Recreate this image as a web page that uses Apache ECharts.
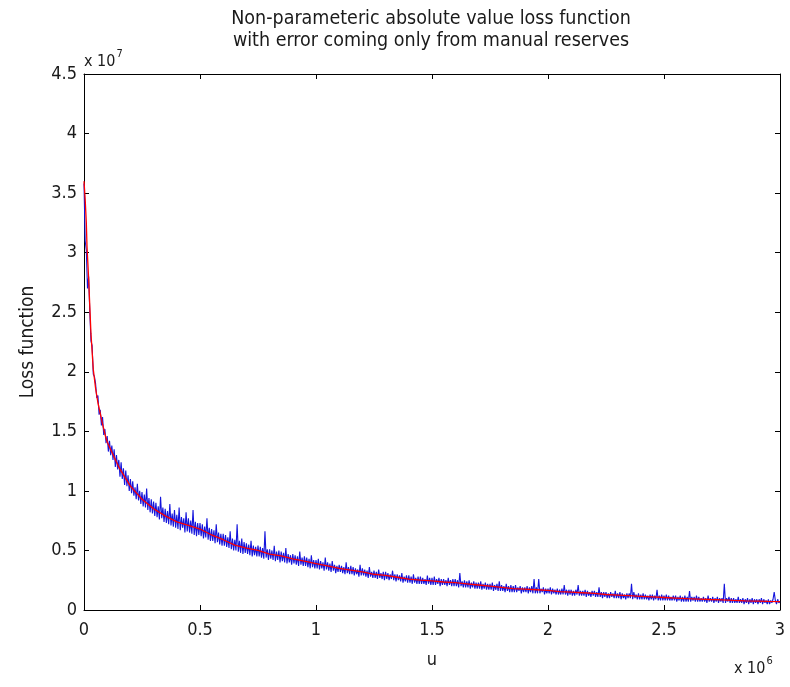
<!DOCTYPE html>
<html>
<head>
<meta charset="utf-8">
<script src="https://cdn.jsdelivr.net/npm/echarts@6/dist/echarts.min.js"></script>
<style>
html, body { margin: 0; padding: 0; background: #ffffff; }
#chart { width: 790px; height: 687px; }
</style>
</head>
<body>
<div id="chart"></div>
<script>
// Plot text
const titleLines = [
  'Non-parameteric absolute value loss function',
  'with error coming only from manual reserves'
];
const xName = 'u';
const yName = 'Loss function';

// Axis ticks (u in units of 1e6, loss in units of 1e7)
const xTicks = [0, 0.5, 1, 1.5, 2, 2.5, 3];
const yTicks = [0, 0.5, 1, 1.5, 2, 2.5, 3, 3.5, 4, 4.5];

// Noisy loss samples, one every 0.005 (x 1e6) from u = 0 to u = 3
const lossStep = 0.005;
const lossNoisy = [
  3.58, 3.10, 3.02, 2.70, 2.80, 2.50, 2.26, 2.22, 1.98, 1.96,
  1.90, 1.78, 1.80, 1.64, 1.68, 1.55, 1.62, 1.47, 1.52, 1.40,
  1.46, 1.33, 1.42, 1.30, 1.38, 1.26, 1.35, 1.20, 1.30, 1.18,
  1.26, 1.12, 1.24, 1.10, 1.19, 1.05, 1.17, 1.04, 1.13, 1.00,
  1.10, 0.98, 1.08, 0.96, 1.03, 0.93, 1.06, 0.92, 1.00, 0.89,
  0.99, 0.87, 0.97, 0.86, 1.02, 0.84, 0.94, 0.82, 0.93, 0.81,
  0.91, 0.79, 0.90, 0.78, 0.87, 0.76, 0.95, 0.77, 0.86, 0.74,
  0.85, 0.73, 0.83, 0.72, 0.89, 0.71, 0.81, 0.70, 0.84, 0.69,
  0.80, 0.68, 0.86, 0.67, 0.78, 0.69, 0.77, 0.65, 0.82, 0.66,
  0.77, 0.65, 0.75, 0.64, 0.84, 0.63, 0.74, 0.62, 0.73, 0.63,
  0.73, 0.62, 0.72, 0.60, 0.70, 0.61, 0.77, 0.59, 0.69, 0.58,
  0.68, 0.58, 0.67, 0.56, 0.72, 0.57, 0.65, 0.55, 0.64, 0.54,
  0.64, 0.54, 0.63, 0.53, 0.61, 0.52, 0.66, 0.51, 0.60, 0.50,
  0.59, 0.50, 0.72, 0.49, 0.58, 0.48, 0.60, 0.47, 0.57, 0.48,
  0.56, 0.47, 0.55, 0.46, 0.58, 0.45, 0.54, 0.46, 0.53, 0.45,
  0.54, 0.45, 0.53, 0.44, 0.52, 0.43, 0.66, 0.44, 0.51, 0.42,
  0.51, 0.43, 0.50, 0.42, 0.54, 0.41, 0.49, 0.42, 0.50, 0.40,
  0.49, 0.41, 0.48, 0.40, 0.52, 0.39, 0.47, 0.40, 0.46, 0.38,
  0.47, 0.39, 0.46, 0.38, 0.45, 0.37, 0.49, 0.38, 0.44, 0.37,
  0.45, 0.37, 0.44, 0.36, 0.43, 0.35, 0.46, 0.36, 0.42, 0.35,
  0.42, 0.35, 0.43, 0.34, 0.41, 0.35, 0.40, 0.33, 0.44, 0.34,
  0.40, 0.33, 0.39, 0.32, 0.41, 0.33, 0.38, 0.31, 0.37, 0.32,
  0.38, 0.32, 0.37, 0.31, 0.36, 0.30, 0.40, 0.31, 0.36, 0.30,
  0.37, 0.30, 0.36, 0.29, 0.35, 0.30, 0.34, 0.28, 0.38, 0.29,
  0.35, 0.29, 0.34, 0.28, 0.33, 0.27, 0.36, 0.28, 0.32, 0.27,
  0.33, 0.27, 0.32, 0.26, 0.34, 0.27, 0.31, 0.26, 0.32, 0.25,
  0.32, 0.26, 0.31, 0.25, 0.30, 0.26, 0.33, 0.25, 0.30, 0.24,
  0.30, 0.25, 0.29, 0.24, 0.31, 0.23, 0.28, 0.24, 0.29, 0.23,
  0.29, 0.23, 0.28, 0.22, 0.30, 0.23, 0.27, 0.22, 0.28, 0.22,
  0.28, 0.22, 0.27, 0.22, 0.26, 0.21, 0.29, 0.22, 0.27, 0.21,
  0.27, 0.21, 0.28, 0.21, 0.26, 0.22, 0.27, 0.20, 0.26, 0.21,
  0.26, 0.21, 0.25, 0.20, 0.27, 0.21, 0.25, 0.20, 0.26, 0.20,
  0.26, 0.20, 0.25, 0.19, 0.31, 0.20, 0.24, 0.19, 0.25, 0.19,
  0.24, 0.19, 0.25, 0.18, 0.23, 0.19, 0.24, 0.18, 0.23, 0.18,
  0.23, 0.18, 0.24, 0.17, 0.22, 0.18, 0.23, 0.17, 0.22, 0.17,
  0.22, 0.17, 0.23, 0.16, 0.21, 0.17, 0.22, 0.16, 0.24, 0.16,
  0.21, 0.16, 0.20, 0.15, 0.22, 0.16, 0.20, 0.15, 0.21, 0.15,
  0.20, 0.15, 0.21, 0.15, 0.19, 0.16, 0.20, 0.14, 0.19, 0.15,
  0.19, 0.15, 0.20, 0.14, 0.19, 0.15, 0.20, 0.14, 0.26, 0.14,
  0.19, 0.14, 0.26, 0.14, 0.18, 0.15, 0.19, 0.13, 0.18, 0.14,
  0.18, 0.14, 0.19, 0.13, 0.18, 0.14, 0.17, 0.13, 0.18, 0.13,
  0.17, 0.13, 0.18, 0.13, 0.21, 0.13, 0.17, 0.12, 0.17, 0.13,
  0.17, 0.12, 0.16, 0.12, 0.17, 0.13, 0.21, 0.12, 0.16, 0.12,
  0.16, 0.12, 0.17, 0.11, 0.16, 0.12, 0.15, 0.11, 0.16, 0.12,
  0.16, 0.11, 0.15, 0.11, 0.19, 0.11, 0.15, 0.10, 0.15, 0.11,
  0.15, 0.10, 0.14, 0.10, 0.15, 0.11, 0.14, 0.10, 0.16, 0.10,
  0.14, 0.10, 0.15, 0.09, 0.14, 0.10, 0.13, 0.09, 0.14, 0.10,
  0.14, 0.10, 0.22, 0.09, 0.15, 0.10, 0.13, 0.09, 0.14, 0.09,
  0.13, 0.09, 0.14, 0.09, 0.13, 0.09, 0.12, 0.08, 0.13, 0.09,
  0.13, 0.08, 0.12, 0.09, 0.17, 0.08, 0.12, 0.08, 0.13, 0.08,
  0.12, 0.08, 0.13, 0.08, 0.12, 0.08, 0.11, 0.08, 0.12, 0.08,
  0.12, 0.07, 0.11, 0.08, 0.12, 0.07, 0.11, 0.07, 0.12, 0.07,
  0.11, 0.07, 0.16, 0.07, 0.11, 0.08, 0.11, 0.07, 0.12, 0.07,
  0.11, 0.07, 0.10, 0.07, 0.11, 0.07, 0.10, 0.06, 0.12, 0.07,
  0.10, 0.07, 0.11, 0.06, 0.10, 0.07, 0.11, 0.06, 0.10, 0.07,
  0.10, 0.06, 0.22, 0.06, 0.10, 0.07, 0.11, 0.06, 0.10, 0.06,
  0.10, 0.06, 0.09, 0.06, 0.11, 0.06, 0.09, 0.06, 0.10, 0.05,
  0.09, 0.06, 0.10, 0.05, 0.09, 0.06, 0.10, 0.05, 0.09, 0.06,
  0.09, 0.05, 0.09, 0.06, 0.10, 0.05, 0.09, 0.06, 0.08, 0.05,
  0.09, 0.05, 0.08, 0.06, 0.09, 0.15, 0.08, 0.05, 0.09, 0.06,
  0.07
];

// Smoothed loss curve
const smoothU = [
  0, 0.005, 0.01, 0.013, 0.02, 0.03, 0.04, 0.05, 0.06, 0.07, 0.08, 0.09, 0.10,
  0.15, 0.20, 0.25, 0.30, 0.35, 0.40, 0.45, 0.50, 0.55, 0.60, 0.65, 0.70,
  0.75, 0.80, 0.85, 0.90, 0.95, 1.00, 1.05, 1.10, 1.15, 1.20, 1.25, 1.30,
  1.35, 1.40, 1.45, 1.50, 1.55, 1.60, 1.65, 1.70, 1.75, 1.80, 1.85, 1.90,
  1.95, 2.00, 2.05, 2.10, 2.15, 2.20, 2.25, 2.30, 2.35, 2.40, 2.45, 2.50,
  2.55, 2.60, 2.65, 2.70, 2.75, 2.80, 2.85, 2.90, 2.95, 3.00
];
const smoothLoss = [
  3.60, 3.45, 3.25, 3.05, 2.78, 2.32, 2.02, 1.86, 1.74, 1.65, 1.56, 1.48, 1.41,
  1.20, 1.04, 0.93, 0.85, 0.79, 0.74, 0.71, 0.68, 0.63, 0.59, 0.545, 0.52,
  0.50, 0.47, 0.455, 0.43, 0.41, 0.39, 0.37, 0.35, 0.335, 0.32, 0.30, 0.29,
  0.275, 0.26, 0.25, 0.245, 0.235, 0.23, 0.22, 0.21, 0.20, 0.19, 0.18, 0.175,
  0.17, 0.165, 0.155, 0.15, 0.145, 0.14, 0.13, 0.125, 0.12, 0.115, 0.11, 0.105,
  0.10, 0.095, 0.092, 0.088, 0.085, 0.08, 0.077, 0.075, 0.072, 0.07
];

const FONT = '"DejaVu Sans Condensed", "Liberation Sans Narrow", "Liberation Sans", Arial, sans-serif';
const INK = '#1a1a1a';

const noisyPoints = lossNoisy.map((v, i) => [Number((i * lossStep).toFixed(3)), v]);
const smoothPoints = smoothU.map((u, i) => [u, smoothLoss[i]]);

const chart = echarts.init(document.getElementById('chart'), null, { renderer: 'canvas' });

const tickLabel = { color: INK, fontFamily: FONT, fontSize: 18 };
const boxLine = { show: true, onZero: false, lineStyle: { color: '#000', width: 1 } };
const boxTick = { show: true, inside: true, length: 5, lineStyle: { color: '#000', width: 1 } };
const exponentStyle = {
  b: { fontFamily: FONT, fontSize: 16, fill: INK, verticalAlign: 'bottom' },
  s: { fontFamily: FONT, fontSize: 11, fill: INK, verticalAlign: 'top', padding: [0, 0, 10, 1] }
};

chart.setOption({
  backgroundColor: '#ffffff',
  animation: false,
  title: {
    text: titleLines.join('\n'),
    left: 426,
    top: 3,
    textAlign: 'center',
    textStyle: {
      fontFamily: FONT, fontSize: 19.5, fontWeight: 'normal', color: INK, lineHeight: 22
    }
  },
  grid: { left: 84, right: 10, top: 74, bottom: 77, containLabel: false },
  xAxis: [
    {
      type: 'value', min: 0, max: 3, interval: 0.5,
      name: xName, nameLocation: 'middle', nameGap: 41,
      nameTextStyle: { fontFamily: FONT, fontSize: 18, color: INK },
      axisLine: boxLine, axisTick: boxTick,
      axisLabel: Object.assign({ margin: 11, formatter: v => String(v) }, tickLabel),
      splitLine: { show: false }
    },
    {
      type: 'value', min: 0, max: 3, interval: 0.5, position: 'top',
      axisLine: boxLine, axisTick: boxTick, axisLabel: { show: false },
      splitLine: { show: false }
    }
  ],
  yAxis: [
    {
      type: 'value', min: 0, max: 4.5, interval: 0.5,
      name: yName, nameLocation: 'middle', nameGap: 46, nameRotate: 90,
      nameTextStyle: { fontFamily: FONT, fontSize: 19, color: INK },
      axisLine: boxLine, axisTick: boxTick,
      axisLabel: Object.assign({ margin: 7, formatter: v => String(v) }, tickLabel),
      splitLine: { show: false }
    },
    {
      type: 'value', min: 0, max: 4.5, interval: 0.5, position: 'right',
      axisLine: boxLine, axisTick: boxTick, axisLabel: { show: false },
      splitLine: { show: false }
    }
  ],
  series: [
    {
      type: 'line', name: 'noisy', data: noisyPoints,
      xAxisIndex: 0, yAxisIndex: 0,
      showSymbol: false, symbol: 'none',
      lineStyle: { color: '#1414dc', width: 1.1 },
      z: 2
    },
    {
      type: 'line', name: 'smoothed', data: smoothPoints,
      xAxisIndex: 0, yAxisIndex: 0,
      showSymbol: false, symbol: 'none',
      lineStyle: { color: '#ff0000', width: 1.3 },
      z: 3
    }
  ],
  graphic: [
    {
      type: 'text', left: 84, top: 49,
      style: { text: '{b|x 10}{s|7}', rich: exponentStyle }
    },
    {
      type: 'text', left: 734, top: 656,
      style: { text: '{b|x 10}{s|6}', rich: exponentStyle }
    }
  ]
});
</script>
</body>
</html>
